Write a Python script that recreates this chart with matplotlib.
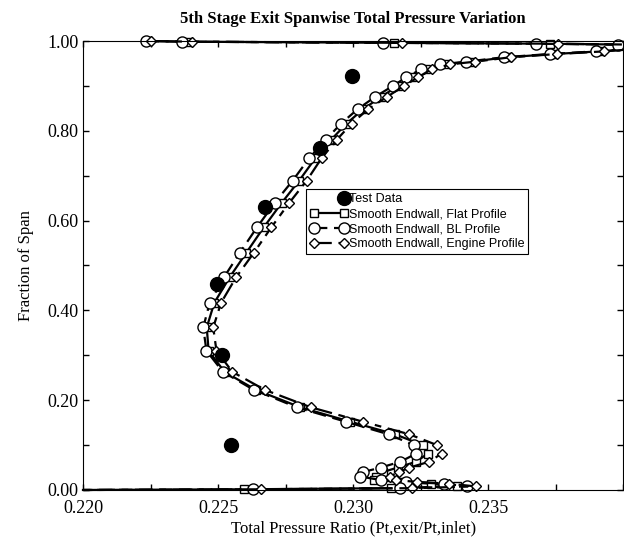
import numpy as np
import matplotlib
matplotlib.use("Agg")
import matplotlib.pyplot as plt
from matplotlib.legend_handler import HandlerLine2D
from matplotlib.ticker import MultipleLocator, FormatStrFormatter

# Fraction of span shared by the three CFD profiles (top of span first)
span = [1.000, 0.9985, 0.996, 0.994, 0.992, 0.987, 0.977, 0.971, 0.964, 0.954,
        0.948, 0.937, 0.919, 0.900, 0.876, 0.848, 0.816, 0.780, 0.739, 0.689,
        0.640, 0.585, 0.528, 0.474, 0.417, 0.362, 0.310, 0.263, 0.223, 0.184,
        0.152, 0.124, 0.100, 0.081, 0.063, 0.050, 0.040, 0.030, 0.022, 0.018,
        0.014, 0.008, 0.004, 0.0015, 0.000]

# Smooth endwall, flat inlet profile (squares)
flat = [0.22242, 0.22391, 0.23151, 0.23728, 0.24005, 0.24135, 0.23912, 0.23742, 0.23573, 0.23435,
        0.23338, 0.23270, 0.23216, 0.23167, 0.23103, 0.23037, 0.22975, 0.22918, 0.22860, 0.22800,
        0.22736, 0.22669, 0.22604, 0.22543, 0.22486, 0.22458, 0.22465, 0.22524, 0.22640, 0.22805,
        0.22990, 0.23155, 0.23257, 0.23276, 0.23233, 0.23165, 0.23110, 0.23085, 0.23077, 0.23180,
        0.23288, 0.23383, 0.23139, 0.22596, 0.22000]

# Smooth endwall, BL inlet profile (circles)
bl = [0.22232, 0.22368, 0.23110, 0.23676, 0.23980, 0.24120, 0.23897, 0.23728, 0.23559, 0.23419,
      0.23320, 0.23251, 0.23196, 0.23147, 0.23082, 0.23016, 0.22955, 0.22898, 0.22837, 0.22776,
      0.22710, 0.22644, 0.22580, 0.22522, 0.22469, 0.22445, 0.22457, 0.22518, 0.22632, 0.22792,
      0.22973, 0.23131, 0.23224, 0.23233, 0.23175, 0.23102, 0.23037, 0.23025, 0.23104, 0.23196,
      0.23337, 0.23423, 0.23175, 0.22629, 0.22000]

# Smooth endwall, engine inlet profile (diamonds)
engine = [0.22251, 0.22404, 0.23179, 0.23757, 0.24030, 0.24150, 0.23930, 0.23754, 0.23585, 0.23451,
          0.23359, 0.23290, 0.23239, 0.23188, 0.23126, 0.23055, 0.22994, 0.22939, 0.22883, 0.22828,
          0.22764, 0.22697, 0.22632, 0.22567, 0.22511, 0.22482, 0.22494, 0.22553, 0.22673, 0.22844,
          0.23037, 0.23208, 0.23310, 0.23327, 0.23282, 0.23208, 0.23170, 0.23135, 0.23159, 0.23236,
          0.23356, 0.23453, 0.23217, 0.22657, 0.22000]

# Rig measurements
test_pr = [0.22997, 0.22878, 0.22675, 0.22497, 0.22516, 0.22549]
test_span = [0.922, 0.761, 0.631, 0.459, 0.301, 0.100]


class RightDot(HandlerLine2D):
    # single legend marker at the right end of the handle
    def get_xdata(self, legend, xdescent, ydescent, width, height, fontsize):
        x = width - xdescent - 0.25 * fontsize
        return [x, x], [x]


plt.rcParams['font.family'] = 'Liberation Serif'

fig = plt.figure(figsize=(6.24, 5.44), dpi=100)
ax = fig.add_axes([0.133, 0.0993, 0.866, 0.8253])

# skip the wall point (last one) for the markers
mk = slice(0, len(span) - 1)

td, = ax.plot(test_pr, test_span, 'o', color='black', markersize=10,
              linestyle='none', label='Test Data', clip_on=False, zorder=5)
ax.plot(flat, span, color='black', lw=1.6, ls='-', marker='s', markersize=6,
        mfc='white', mec='black', mew=1, markevery=mk, clip_on=False,
        label='Smooth Endwall, Flat Profile')
ax.plot(bl, span, color='black', lw=1.6, ls=(0, (6, 3)), marker='o', markersize=8,
        mfc='white', mec='black', mew=1, markevery=mk, clip_on=False,
        label='Smooth Endwall, BL Profile')
ax.plot(engine, span, color='black', lw=1.6, ls=(0, (8, 3, 3, 3)), marker='D', markersize=5.5,
        mfc='white', mec='black', mew=1, markevery=mk, clip_on=False,
        label='Smooth Endwall, Engine Profile')

ax.set_xlim(0.220, 0.240)
ax.set_ylim(0.0, 1.0)
ax.set_xticks([0.220, 0.225, 0.230, 0.235])
ax.xaxis.set_minor_locator(MultipleLocator(0.0025))
ax.yaxis.set_major_locator(MultipleLocator(0.2))
ax.yaxis.set_minor_locator(MultipleLocator(0.1))
ax.xaxis.set_major_formatter(FormatStrFormatter('%.3f'))
ax.yaxis.set_major_formatter(FormatStrFormatter('%.2f'))
ax.tick_params(which='both', direction='in', top=True, right=True, length=4,
               width=1, labelsize=13, pad=3)
ax.tick_params(axis='x', pad=7)

ax.set_title('5th Stage Exit Spanwise Total Pressure Variation',
             fontsize=12, fontweight='bold', pad=13)
ax.set_xlabel('Total Pressure Ratio (Pt,exit/Pt,inlet)', fontsize=12, labelpad=3)
ax.set_ylabel('Fraction of Span', fontsize=12, labelpad=10)

leg = ax.legend(loc='upper left', bbox_to_anchor=(0.413, 0.670), borderaxespad=0,
                handler_map={td: RightDot(numpoints=1)}, numpoints=2,
                prop={'family': 'Liberation Sans', 'size': 9},
                fancybox=False, framealpha=1, edgecolor='black',
                handlelength=3.0, handletextpad=0.1, labelspacing=0.25,
                borderpad=0.3)
leg.get_frame().set_linewidth(0.8)

fig.savefig('out.png', dpi=100)
